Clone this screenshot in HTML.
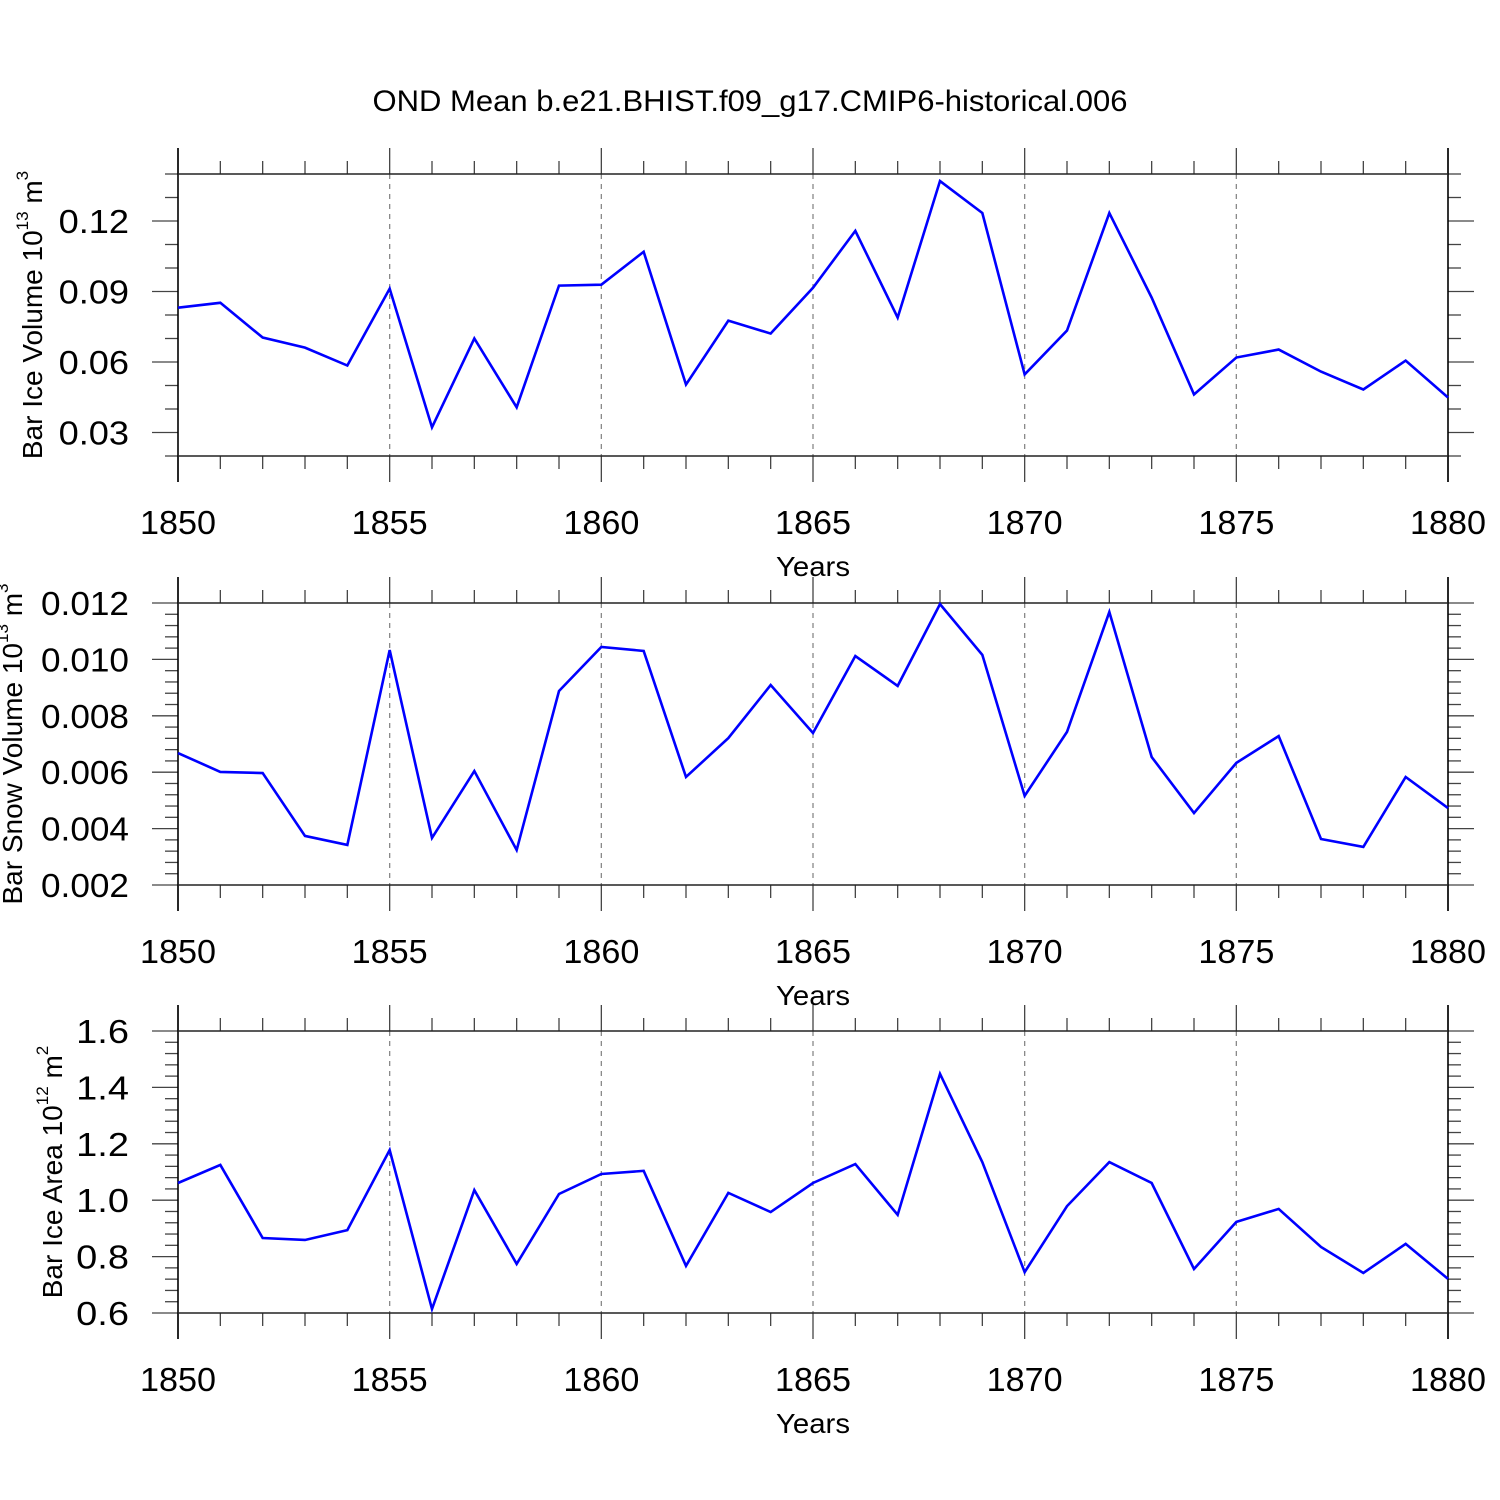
<!DOCTYPE html>
<html><head><meta charset="utf-8"><style>
html,body{margin:0;padding:0;background:#fff}
svg{display:block;font-family:"Liberation Sans",sans-serif}
</style></head><body>
<svg id="chart" width="1500" height="1500" viewBox="0 0 1500 1500" xmlns="http://www.w3.org/2000/svg">
<rect width="1500" height="1500" fill="#fff"/>
<text x="750" y="111" font-size="30" text-anchor="middle" textLength="755" lengthAdjust="spacingAndGlyphs">OND Mean b.e21.BHIST.f09_g17.CMIP6-historical.006</text>
</svg>
<script>
const years = [1850,1851,1852,1853,1854,1855,1856,1857,1858,1859,1860,1861,1862,1863,1864,1865,1866,1867,1868,1869,1870,1871,1872,1873,1874,1875,1876,1877,1878,1879,1880];
const iceVolume = [0.0831,0.0852,0.0704,0.0661,0.0585,0.0912,0.0322,0.0700,0.0407,0.0925,0.0929,0.1069,0.0504,0.0776,0.0721,0.0916,0.1158,0.0789,0.1370,0.1234,0.0547,0.0734,0.1234,0.0874,0.0462,0.0619,0.0653,0.0559,0.0483,0.0606,0.0449];
const snowVolume = [0.00668,0.00601,0.00597,0.00374,0.00342,0.01033,0.00367,0.00604,0.00324,0.00888,0.01044,0.01030,0.00583,0.00721,0.00909,0.00739,0.01012,0.00906,0.01196,0.01016,0.00516,0.00743,0.01168,0.00654,0.00455,0.00633,0.00728,0.00363,0.00335,0.00583,0.00473];
const iceArea = [1.061,1.125,0.866,0.859,0.894,1.178,0.614,1.036,0.774,1.022,1.093,1.104,0.767,1.026,0.958,1.061,1.128,0.948,1.448,1.135,0.745,0.979,1.135,1.061,0.756,0.923,0.969,0.834,0.742,0.845,0.721];
const xTickLabels = ["1850","1855","1860","1865","1870","1875","1880"];
const iceVolTicks = ["0.03","0.06","0.09","0.12"];
const snowTicks = ["0.002","0.004","0.006","0.008","0.010","0.012"];
const areaTicks = ["0.6","0.8","1.0","1.2","1.4","1.6"];

const NS="http://www.w3.org/2000/svg";
const svg=document.getElementById('chart');
const X0=178,X1=1448,H=282;
function mk(tag,attrs,parent){const e=document.createElementNS(NS,tag);for(const k in attrs)e.setAttribute(k,attrs[k]);(parent||svg).appendChild(e);return e;}
function xs(yr){return X0+(yr-1850)*(X1-X0)/30;}

function panel(key,top,ymin,ymax,minorStep,tickLabels,values,titleParts,titleX){
  const g=mk('g',{});
  
  
  const bot=top+H;
  const ys=v=>bot-(v-ymin)/(ymax-ymin)*H;
  const ln=(x1,y1,x2,y2,c,w,extra)=>{const l=mk('line',Object.assign({x1,y1,x2,y2,stroke:c,'stroke-width':w},extra||{}),g);return l;};
  for(let yr=1855;yr<1880;yr+=5){const d=ln(xs(yr),top,xs(yr),bot,'#888',1.3,{'stroke-dasharray':'5 5'});
    
    }
  for(let yr=1850;yr<=1880;yr++){const maj=yr%5===0;const L=maj?26:13;
    ln(xs(yr),top-L,xs(yr),top,'#444',1.3);ln(xs(yr),bot,xs(yr),bot+L,'#444',1.3);}
  const n=Math.round((ymax-ymin)/minorStep);
  const majVals=tickLabels.map(Number);
  for(let i=0;i<=n;i++){const v=ymin+i*minorStep;const maj=majVals.some(m=>Math.abs(m-v)<minorStep*0.1);const L=maj?26:13;
    ln(X0-L,ys(v),X0,ys(v),'#444',1.3);ln(X1,ys(v),X1+L,ys(v),'#444',1.3);}
  ln(X0,top-26,X0,bot+26,'#000',1.6);ln(X1,top-26,X1,bot+26,'#000',1.6);
  ln(X0,top,X1,top,'#222',1.4);ln(X0,bot,X1,bot,'#222',1.4);
  tickLabels.forEach(t=>{const e=mk('text',{x:129,y:ys(Number(t))+12,'font-size':33,'text-anchor':'end',textLength:t.length*17.6,lengthAdjust:'spacingAndGlyphs'},g);e.textContent=t;
    
    });
  xTickLabels.forEach(t=>{const e=mk('text',{x:xs(Number(t)),y:bot+78,'font-size':33,'text-anchor':'middle',textLength:76,lengthAdjust:'spacingAndGlyphs'},g);e.textContent=t;
    
    });
  const xt=mk('text',{x:813,y:bot+120,'font-size':28,'text-anchor':'middle',textLength:74,lengthAdjust:'spacingAndGlyphs'},g);xt.textContent='Years';
  
  
  const yt=mk('text',{x:0,y:0,'font-size':28,'text-anchor':'middle',transform:`translate(${titleX},${top+H/2}) rotate(-90)`},g);
  
  
  yt.appendChild(document.createTextNode(titleParts[0]));
  const s1=mk('tspan',{dy:-14,'font-size':17},yt);s1.textContent=titleParts[1];
  const s2=mk('tspan',{dy:14},yt);s2.textContent=' m';
  const s3=mk('tspan',{dy:-14,'font-size':17},yt);s3.textContent=titleParts[2];
  const p=mk('polyline',{points:values.map((v,i)=>xs(years[i])+','+ys(v)).join(' '),fill:'none',stroke:'#0000ff','stroke-width':2.6,'stroke-linejoin':'miter'},g);
  
  
}
panel('ice-volume',174,0.02,0.14,0.01,iceVolTicks,iceVolume,['Bar Ice Volume 10','13','3'],42);
panel('snow-volume',603,0.002,0.012,0.0004,snowTicks,snowVolume,['Bar Snow Volume 10','13','3'],22);
panel('ice-area',1031,0.6,1.6,0.04,areaTicks,iceArea,['Bar Ice Area 10','12','2'],62);
</script>
</body></html>
